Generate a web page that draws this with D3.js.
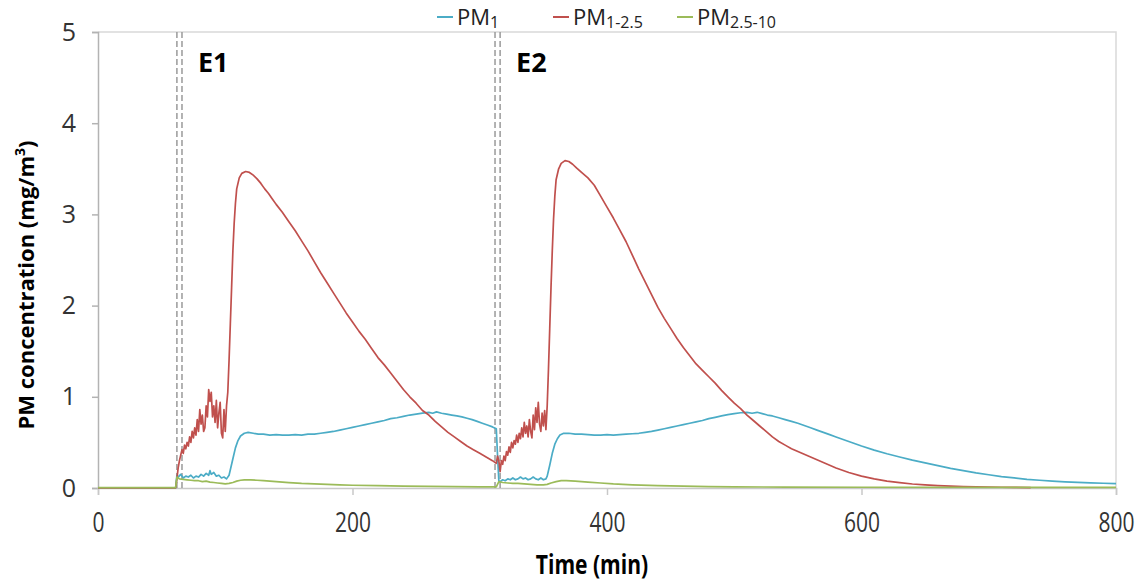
<!DOCTYPE html>
<html>
<head>
<meta charset="utf-8">
<script src="https://cdn.jsdelivr.net/npm/d3@7"></script>
<style>
  body { margin: 0; background: #fff; }
  svg text { font-family: "Open Sans", sans-serif; }
</style>
</head>
<body>
<script>

// chart data: [time (min), concentration (mg/m3)]
const pm1 = [
  [0,0],[61,0],[62,0.14],[63,0.12],[65,0.15],[67,0.11],[69,0.13],[71,0.12],[73,0.14],[75,0.11],
  [77,0.13],[79,0.12],[81,0.15],[83,0.13],[85,0.16],[87,0.14],[88,0.19],[89,0.15],[91,0.17],[93,0.13],
  [95,0.14],[97,0.11],[99,0.12],[101,0.1],[103,0.14],[104,0.2],[106,0.32],[108,0.44],[110,0.52],[112,0.57],
  [115,0.6],[118,0.61],[122,0.6],[126,0.59],[130,0.59],[135,0.58],[140,0.585],[145,0.58],[150,0.58],[155,0.585],
  [160,0.58],[165,0.59],[170,0.59],[175,0.6],[180,0.61],[185,0.62],[190,0.635],[195,0.65],[200,0.665],[205,0.68],
  [210,0.695],[215,0.71],[220,0.725],[225,0.74],[230,0.76],[235,0.77],[240,0.785],[245,0.8],[250,0.81],[255,0.82],
  [260,0.83],[263,0.82],[266,0.835],[270,0.82],[274,0.81],[278,0.8],[282,0.79],[286,0.78],[290,0.765],[294,0.75],
  [298,0.73],[302,0.71],[306,0.69],[310,0.67],[313,0.65],[314,0.35],[315,0.08],[316,0.07],[318,0.09],[320,0.08],
  [322,0.1],[324,0.09],[326,0.11],[328,0.09],[330,0.1],[332,0.12],[334,0.1],[336,0.11],[338,0.09],[340,0.1],
  [342,0.12],[344,0.1],[346,0.09],[348,0.11],[350,0.09],[352,0.1],[353,0.13],[355,0.25],[357,0.38],[359,0.48],
  [361,0.54],[363,0.58],[366,0.6],[370,0.6],[375,0.59],[380,0.59],[385,0.585],[390,0.58],[395,0.58],[400,0.585],
  [405,0.58],[410,0.585],[415,0.59],[420,0.595],[425,0.6],[430,0.61],[435,0.62],[440,0.635],[445,0.65],[450,0.665],
  [455,0.68],[460,0.695],[465,0.71],[470,0.725],[475,0.74],[480,0.76],[485,0.775],[490,0.79],[495,0.805],[500,0.815],
  [505,0.825],[510,0.83],[514,0.82],[518,0.83],[522,0.815],[526,0.8],[530,0.79],[535,0.77],[540,0.75],[545,0.73],
  [550,0.71],[555,0.685],[560,0.66],[565,0.635],[570,0.61],[575,0.585],[580,0.56],[585,0.535],[590,0.51],[595,0.485],
  [600,0.46],[610,0.415],[620,0.375],[630,0.34],[640,0.305],[650,0.275],[660,0.245],[670,0.215],[680,0.19],[690,0.165],
  [700,0.145],[710,0.125],[720,0.11],[730,0.095],[740,0.085],[750,0.075],[760,0.068],[770,0.062],[780,0.056],[790,0.052],
  [800,0.048]
];

const pm1to25 = [
  [0,0],[61,0],[62,0.1],[63,0.22],[64,0.3],[65,0.36],[66,0.42],[67,0.38],[68,0.47],[69,0.43],
  [70,0.5],[71,0.46],[72,0.56],[73,0.5],[74,0.62],[75,0.55],[76,0.66],[77,0.58],[78,0.75],[79,0.62],
  [80,0.86],[81,0.7],[82,0.8],[83,0.62],[84,0.66],[85,0.9],[86,0.78],[87,1.08],[88,0.95],[89,1.05],
  [90,0.78],[91,0.9],[92,0.72],[93,0.96],[94,0.66],[95,0.82],[96,0.94],[97,0.6],[98,0.55],[99,0.86],
  [100,0.62],[101,0.9],[102,1.05],[103,1.4],[104,1.8],[105,2.2],[106,2.6],[107,2.9],[108,3.12],[109,3.28],
  [111,3.4],[113,3.45],[116,3.47],[119,3.46],[122,3.43],[125,3.39],[128,3.34],[131,3.28],[134,3.23],[137,3.17],
  [140,3.11],[145,3.02],[150,2.92],[155,2.82],[160,2.71],[165,2.6],[170,2.48],[175,2.36],[180,2.25],[185,2.14],
  [190,2.03],[195,1.92],[200,1.82],[205,1.72],[210,1.63],[215,1.53],[220,1.43],[225,1.35],[230,1.26],[235,1.17],
  [240,1.08],[245,1.0],[250,0.93],[255,0.85],[260,0.8],[265,0.73],[270,0.67],[275,0.61],[280,0.56],[285,0.51],
  [290,0.46],[295,0.42],[300,0.38],[305,0.34],[310,0.3],[313,0.27],[314,0.35],[315,0.3],[316,0.18],[317,0.3],
  [318,0.26],[319,0.35],[320,0.3],[321,0.4],[322,0.36],[323,0.45],[324,0.39],[325,0.5],[326,0.44],[327,0.52],
  [328,0.48],[329,0.58],[330,0.5],[331,0.6],[332,0.54],[333,0.66],[334,0.56],[335,0.72],[336,0.6],[337,0.68],
  [338,0.56],[339,0.75],[340,0.62],[341,0.55],[342,0.8],[343,0.64],[344,0.88],[345,0.72],[346,0.94],[347,0.7],
  [348,0.62],[349,0.82],[350,0.68],[351,0.85],[352,0.64],[353,0.9],[354,1.3],[355,1.75],[356,2.2],[357,2.6],
  [358,2.95],[359,3.2],[360,3.38],[362,3.5],[364,3.56],[367,3.59],[370,3.58],[373,3.55],[376,3.51],[380,3.46],
  [385,3.4],[390,3.32],[395,3.2],[400,3.08],[405,2.96],[410,2.83],[415,2.7],[420,2.55],[425,2.4],[430,2.26],
  [435,2.12],[440,1.98],[445,1.86],[450,1.75],[455,1.64],[460,1.54],[465,1.45],[470,1.36],[475,1.29],[480,1.22],
  [485,1.15],[490,1.07],[495,1.0],[500,0.93],[505,0.87],[510,0.8],[515,0.74],[520,0.68],[525,0.62],[530,0.56],
  [535,0.51],[540,0.47],[545,0.43],[550,0.4],[555,0.37],[560,0.34],[570,0.28],[580,0.22],[590,0.17],[600,0.13],
  [610,0.1],[620,0.075],[630,0.058],[640,0.044],[650,0.034],[660,0.026],[670,0.02],[680,0.015],[690,0.012],[700,0.01],
  [710,0.008],[720,0.006],[733,0.005]
];

const pm25to10 = [
  [0,0.005],[61,0.005],[62,0.12],[64,0.1],[67,0.095],[70,0.09],[73,0.085],[76,0.08],[79,0.08],[82,0.07],
  [85,0.075],[88,0.065],[91,0.06],[94,0.055],[97,0.05],[100,0.045],[103,0.05],[106,0.06],[109,0.075],[112,0.085],
  [115,0.09],[120,0.09],[125,0.085],[130,0.08],[140,0.07],[150,0.06],[160,0.05],[170,0.045],[180,0.04],[190,0.035],
  [200,0.03],[220,0.025],[240,0.02],[260,0.018],[280,0.015],[300,0.013],[313,0.012],[315,0.07],[318,0.06],[322,0.055],
  [326,0.05],[330,0.05],[335,0.045],[340,0.04],[345,0.035],[350,0.035],[353,0.04],[356,0.055],[360,0.07],[364,0.08],
  [368,0.08],[375,0.075],[385,0.065],[395,0.055],[405,0.045],[420,0.035],[440,0.025],[460,0.02],[480,0.015],[500,0.012],
  [540,0.01],[600,0.008],[700,0.007],[800,0.006]
];

// exposure events: label and the two dashed boundary times
const eventNames = ["E1", "E2"];
const eventStart = [62, 312];
const eventEnd = [66, 316];

const xTicks = [0, 200, 400, 600, 800];
const yTicks = [0, 1, 2, 3, 4, 5];

const seriesNames = [["PM", "1"], ["PM", "1-2.5"], ["PM", "2.5-10"]];
const seriesColors = ["#4bacc6", "#c0504d", "#9bbb59"];

const width = 1141, height = 581;
const margin = {top: 32, right: 25, bottom: 93, left: 98};

const svg = d3.select("body")
  .append("svg")
  .attr("width", width)
  .attr("height", height);

let xScale = d3.scaleLinear()
  .domain([0, 800])
  .range([margin.left, width - margin.right]);

let yScale = d3.scaleLinear()
  .domain([0, 5])
  .range([height - margin.bottom, margin.top]);

// plot area border (top + right)
svg.append("path")
  .attr("d", `M${xScale(0)},${yScale(5)}H${xScale(800)}V${yScale(0)}`)
  .attr("fill", "none")
  .attr("stroke", "#d9d9d9")
  .attr("stroke-width", 1.5);

// y axis
const yAxis = svg.append("g")
  .attr("transform", `translate(${margin.left},0)`)
  .call(d3.axisLeft(yScale).tickValues(yTicks).tickFormat(d3.format("d")).tickSize(6).tickPadding(16));
yAxis.selectAll("path, line").attr("stroke", "#b3b3b3").attr("stroke-width", 1.5);
yAxis.selectAll("text")
  .attr("font-size", "25px")
  .attr("fill", "#333");

// x axis
const xAxis = svg.append("g")
  .attr("transform", `translate(0,${height - margin.bottom})`)
  .call(d3.axisBottom(xScale).tickValues(xTicks).tickSize(7).tickPadding(17));
xAxis.selectAll("path, line").attr("stroke", "#c8c8c8").attr("stroke-width", 1.5);
xAxis.selectAll("text")
  .attr("font-size", "28px")
  .attr("fill", "#333")
  .attr("transform", "scale(0.75,1)");

// event boundaries
const bounds = eventStart.concat(eventEnd);
svg.selectAll(".bound")
  .data(bounds)
  .enter()
  .append("line")
  .attr("class", "bound")
  .attr("x1", d => xScale(d))
  .attr("x2", d => xScale(d))
  .attr("y1", yScale(5))
  .attr("y2", yScale(0))
  .attr("stroke", "#9a9a9a")
  .attr("stroke-width", 1.5)
  .attr("stroke-dasharray", "6,3");

svg.selectAll(".evlabel")
  .data(eventNames)
  .enter()
  .append("text")
  .attr("class", "evlabel")
  .attr("x", (d, i) => xScale(eventEnd[i]) + 16)
  .attr("y", yScale(4.56))
  .attr("font-size", "27px")
  .attr("font-weight", "bold")
  .text(d => d);

// lines
const line = d3.line()
  .x(d => xScale(d[0]))
  .y(d => yScale(d[1]));

[pm1, pm1to25, pm25to10].forEach((data, i) => {
  svg.append("path")
    .datum(data)
    .attr("fill", "none")
    .attr("stroke", seriesColors[i])
    .attr("stroke-width", 1.7)
    .attr("stroke-linejoin", "round")
    .attr("d", line);
});

// legend
const legendX = [437, 553, 677];
const legend = svg.selectAll(".legend")
  .data(seriesNames)
  .enter()
  .append("g")
  .attr("class", "legend")
  .attr("transform", (d, i) => `translate(${legendX[i]},0)`);

legend.append("line")
  .attr("x1", 0).attr("x2", 16)
  .attr("y1", 17).attr("y2", 17)
  .attr("stroke", (d, i) => seriesColors[i])
  .attr("stroke-width", 2);

const ltext = legend.append("text")
  .attr("x", 20)
  .attr("y", 25)
  .attr("font-size", "22px")
  .attr("fill", "#222");
ltext.append("tspan").text(d => d[0]);
ltext.append("tspan")
  .attr("font-size", "16px")
  .attr("dy", 3)
  .text(d => d[1]);

// axis titles
svg.append("text")
  .attr("x", 592)
  .attr("y", 574)
  .attr("text-anchor", "middle")
  .attr("font-size", "27px")
  .attr("font-weight", "bold")
  .attr("transform-origin", "592px 574px")
  .attr("transform", "scale(0.78,1)")
  .text("Time (min)");

const ylab = svg.append("text")
  .attr("transform", "translate(34,285) rotate(-90)")
  .attr("text-anchor", "middle")
  .attr("font-size", "22px")
  .attr("font-weight", "bold");
ylab.append("tspan").text("PM concentration (mg/m");
ylab.append("tspan").attr("font-size", "14px").attr("dy", -9).text("3");
ylab.append("tspan").attr("dy", 9).text(")");

</script>
</body>
</html>
